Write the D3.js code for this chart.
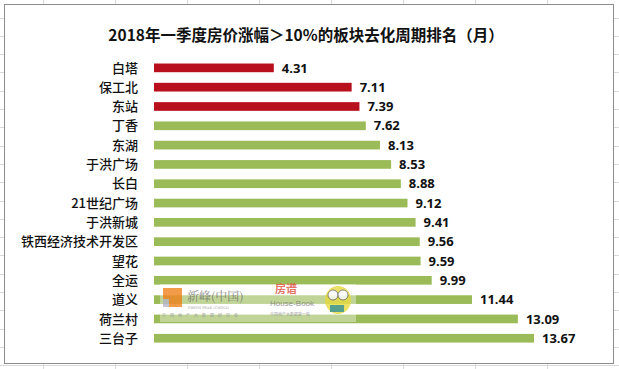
<!DOCTYPE html>
<html>
<head>
<meta charset="utf-8">
<script src="https://cdn.jsdelivr.net/npm/d3@7"></script>
<style>
  body { margin: 0; background: #fff; }
  svg { display: block; }
</style>
</head>
<body>
<div id="chart"></div>
<script>
// 板块名称与去化周期（月）
var areas = ["白塔", "保工北", "东站", "丁香", "东湖", "于洪广场", "长白", "21世纪广场",
  "于洪新城", "铁西经济技术开发区", "望花", "全运", "道义", "荷兰村", "三台子"];
var months = [4.31, 7.11, 7.39, 7.62, 8.13, 8.53, 8.88, 9.12, 9.41, 9.56, 9.59, 9.99, 11.44, 13.09, 13.67];
var highlight = ["白塔", "保工北", "东站"];  // 红色的三个
var title = "2018年一季度房价涨幅＞10%的板块去化周期排名（月）";

var width = 619, height = 369;
var frame = { left: 4, top: 4, right: 613, bottom: 363 };

var data = areas.map(function (d, i) { return { name: d, value: months[i] }; });

var svg = d3.select("#chart").append("svg")
  .attr("width", width)
  .attr("height", height);

// excel 网格线（底层）
var grid = svg.append("g").attr("stroke", "#d9d9d9").attr("stroke-width", 1);
d3.range(43, width, 72).forEach(function (x) {
  grid.append("line").attr("x1", x + 0.5).attr("x2", x + 0.5).attr("y1", 0).attr("y2", height);
});
d3.range(17.5, height, 18.3).forEach(function (y) {
  grid.append("line").attr("x1", 0).attr("x2", width).attr("y1", Math.round(y) + 0.5).attr("y2", Math.round(y) + 0.5);
});

// 图表区域
svg.append("rect")
  .attr("x", frame.left + 0.5).attr("y", frame.top + 0.5)
  .attr("width", frame.right - frame.left).attr("height", frame.bottom - frame.top)
  .attr("fill", "#fff")
  .attr("stroke", "#8c8c8c");

svg.append("text")
  .attr("x", 306).attr("y", 41)
  .attr("text-anchor", "middle")
  .style("font", "bold 15.5px 'Noto Sans CJK SC', sans-serif")
  .attr("fill", "#111")
  .text(title);

var x = d3.scaleLinear().domain([0, 13.67]).range([154, 534]);
var y = d3.scaleBand().domain(areas).range([58.3, 347.8]).paddingInner(0.55).paddingOuter(0.27);

var bars = svg.append("g");
bars.selectAll("rect")
  .data(data)
  .enter()
  .append("rect")
  .attr("x", x(0))
  .attr("y", function (d) { return y(d.name); })
  .attr("width", function (d) { return x(d.value) - x(0); })
  .attr("height", y.bandwidth())
  .attr("fill", function (d) { return highlight.indexOf(d.name) >= 0 ? "#b8101c" : "#9bbb59"; });

// 类别标签
svg.append("g").selectAll("text")
  .data(data)
  .enter()
  .append("text")
  .attr("x", 138)
  .attr("y", function (d) { return y(d.name) + y.bandwidth() / 2; })
  .attr("dy", "0.36em")
  .attr("text-anchor", "end")
  .style("font", "500 13px 'Noto Sans CJK SC', sans-serif")
  .attr("fill", "#111")
  .text(function (d) { return d.name; });

// 数值标签
svg.append("g").selectAll("text")
  .data(data)
  .enter()
  .append("text")
  .attr("x", function (d) { return x(d.value) + 8; })
  .attr("y", function (d) { return y(d.name) + y.bandwidth() / 2; })
  .attr("dy", "0.36em")
  .style("font", "bold 13px 'Noto Sans', 'DejaVu Sans', sans-serif")
  .attr("fill", "#111")
  .text(function (d) { return d.value.toFixed(2); });

// 水印 logo（近似）
var wm = svg.append("g").attr("opacity", 0.85);
wm.append("rect").attr("x", 160).attr("y", 284).attr("width", 196).attr("height", 38).attr("fill", "#fff").attr("opacity", 0.45);
wm.append("rect").attr("x", 163).attr("y", 288).attr("width", 19).attr("height", 19).attr("fill", "#f08a2a");
wm.append("rect").attr("x", 163).attr("y", 299).attr("width", 6).attr("height", 8).attr("fill", "#b9b9c9");
wm.append("text").attr("x", 187).attr("y", 301)
  .style("font", "12px 'Noto Serif CJK SC', 'Noto Sans CJK SC', serif").attr("fill", "#777")
  .text("新峰(中国)");
wm.append("text").attr("x", 188).attr("y", 309)
  .style("font", "3.5px 'DejaVu Serif', serif").attr("fill", "#999")
  .text("FRESH PEAK (CHINA)");
wm.append("text").attr("x", 162).attr("y", 317)
  .style("font", "4px 'Noto Sans CJK SC', sans-serif").attr("fill", "#999").attr("letter-spacing", "4px")
  .text("中国地产大数据研究者");
wm.append("text").attr("x", 275).attr("y", 293)
  .style("font", "bold 11px 'Noto Sans CJK SC', sans-serif").attr("fill", "#e05a4a")
  .text("房谱");
wm.append("text").attr("x", 270).attr("y", 306)
  .style("font", "8px 'Liberation Sans', sans-serif").attr("fill", "#888")
  .text("House-Book");
wm.append("text").attr("x", 270).attr("y", 316)
  .style("font", "4px 'Noto Sans CJK SC', sans-serif").attr("fill", "#999")
  .text("中国地产大数据第一股");
// 小蜜蜂
wm.append("ellipse").attr("cx", 338).attr("cy", 300).attr("rx", 13).attr("ry", 14).attr("fill", "#e8dc4a");
wm.append("ellipse").attr("cx", 333).attr("cy", 295).attr("rx", 5).attr("ry", 5).attr("fill", "#fff").attr("stroke", "#555").attr("stroke-width", 0.8);
wm.append("ellipse").attr("cx", 343).attr("cy", 295).attr("rx", 5).attr("ry", 5).attr("fill", "#fff").attr("stroke", "#555").attr("stroke-width", 0.8);
wm.append("rect").attr("x", 330).attr("y", 305).attr("width", 14).attr("height", 7).attr("fill", "#3a8f7a");
</script>
</body>
</html>
